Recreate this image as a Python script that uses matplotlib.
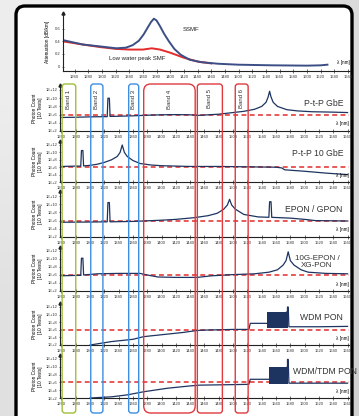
import numpy as np
import matplotlib
matplotlib.use("Agg")
import matplotlib.pyplot as plt
from matplotlib.patches import FancyBboxPatch
from matplotlib.transforms import blended_transform_factory
from matplotlib.ticker import FixedLocator, FuncFormatter

plt.rcParams['font.family'] = ['Liberation Sans', 'DejaVu Sans']

# ---------------- data ----------------
# attenuation panel (dB/km)
ssmf_nm = [1243, 1272, 1297, 1321, 1335, 1345, 1354, 1361, 1367, 1372, 1376, 1380, 1385,
           1391, 1398, 1406, 1415, 1428, 1445, 1470, 1500, 1550, 1600, 1620, 1630]
ssmf_att = [0.42, 0.35, 0.32, 0.29, 0.30, 0.34, 0.41, 0.51, 0.62, 0.71, 0.76, 0.73, 0.64,
            0.52, 0.40, 0.28, 0.19, 0.11, 0.07, 0.045, 0.03, 0.02, 0.015, 0.02, 0.03]
lwp_nm = [1243, 1272, 1297, 1321, 1341, 1360, 1373, 1385, 1400, 1420, 1440, 1460]
lwp_att = [0.40, 0.35, 0.31, 0.28, 0.27, 0.27, 0.29, 0.27, 0.22, 0.14, 0.08, 0.05]

att_ticks = [0, 0.2, 0.4, 0.6]
wl_ticks = list(range(1260, 1661, 20))
count_ticks = [1e2, 1e4, 1e6, 1e8, 1e10, 1e12]
threshold = 1e6

# photon count panels: wavelength (nm) and log10(photon count)
ptp_gbe_nm = [1260, 1280, 1300, 1320, 1324, 1325, 1327, 1328, 1340, 1360, 1380, 1400, 1420,
              1440, 1450, 1460, 1480, 1500, 1515, 1530, 1540, 1546, 1549, 1551, 1553, 1556,
              1562, 1575, 1590, 1610, 1640, 1660]
ptp_gbe_log = [5.3, 5.35, 5.45, 5.5, 5.5, 10.0, 10.0, 5.55, 5.6, 5.7, 5.85, 5.95, 6.0,
               5.95, 5.8, 5.9, 6.1, 6.5, 6.8, 7.3, 8.0, 9.0, 10.3, 11.7, 10.3, 9.0,
               8.0, 7.2, 6.9, 6.7, 6.6, 6.5]

ptp_10g_nm = [1260, 1280, 1287, 1288, 1290, 1291, 1300, 1310, 1320, 1330, 1338, 1342, 1345,
              1348, 1352, 1360, 1370, 1385, 1400, 1440, 1480, 1520, 1560, 1568, 1572, 1600,
              1630, 1660]
ptp_10g_log = [6.2, 6.3, 6.3, 10.5, 10.5, 6.35, 6.5, 6.8, 7.3, 8.0, 8.9, 10.0, 12.0,
               10.0, 8.9, 7.8, 7.0, 6.6, 6.4, 6.2, 6.2, 6.1, 6.0, 5.8, 5.3, 4.9,
               4.4, 4.0]

epon_nm = [1260, 1300, 1324, 1325, 1327, 1328, 1360, 1400, 1420, 1445, 1465, 1478, 1487,
           1492, 1495, 1498, 1503, 1515, 1535, 1550, 1551, 1553, 1554, 1580, 1600, 1615, 1660]
epon_log = [5.6, 5.65, 5.7, 10.4, 10.4, 5.7, 5.8, 6.1, 6.3, 6.7, 7.2, 7.8, 8.8,
            9.8, 11.2, 9.8, 8.8, 7.5, 6.9, 6.8, 10.6, 10.6, 6.8, 6.6, 6.3, 6.0, 5.9]

xgpon_nm = [1260, 1280, 1287, 1288, 1290, 1291, 1310, 1340, 1370, 1380, 1395, 1420, 1450,
            1470, 1500, 1530, 1550, 1562, 1570, 1574, 1577, 1580, 1585, 1595, 1605, 1630, 1660]
xgpon_log = [5.8, 5.9, 5.9, 10.2, 10.2, 6.0, 6.3, 6.4, 6.4, 6.0, 5.5, 5.4, 5.4,
             5.8, 6.1, 6.3, 6.7, 7.3, 8.5, 9.6, 11.8, 9.6, 8.5, 7.3, 6.7, 6.4, 6.3]

wdm_nm = [1300, 1310, 1330, 1345, 1360, 1375, 1390, 1410, 1430, 1445, 1455, 1480, 1500,
          1522, 1524, 1548, 1576, 1576, 1577, 1578, 1620, 1660]
wdm_log = [2.0, 2.3, 2.9, 3.2, 3.5, 4.2, 4.5, 4.9, 5.3, 5.7, 5.9, 6.0, 6.1,
           6.1, 7.7, 7.7, 10.8, 12.0, 12.0, 6.8, 6.8, 6.9]
wdm_block_nm = [1548, 1577]
wdm_block_lo = [6.5, 6.5]
wdm_block_hi = [10.8, 10.8]

tdm_nm = [1300, 1330, 1352, 1375, 1408, 1440, 1454, 1490, 1522, 1524, 1550, 1576, 1576,
          1577, 1578, 1620, 1660]
tdm_log = [2.0, 2.3, 2.8, 3.6, 4.5, 5.1, 5.3, 5.4, 5.5, 6.8, 6.8, 10.0, 11.9,
           11.9, 5.8, 5.8, 5.8]
tdm_block_nm = [1550, 1577]
tdm_block_lo = [5.5, 5.5]
tdm_block_hi = [10.0, 10.0]

panels = [
    ("P-t-P GbE", ptp_gbe_nm, ptp_gbe_log, None),
    ("P-t-P 10 GbE", ptp_10g_nm, ptp_10g_log, None),
    ("EPON / GPON", epon_nm, epon_log, None),
    ("10G-EPON /\nXG-PON", xgpon_nm, xgpon_log, None),
    ("WDM PON", wdm_nm, wdm_log, (wdm_block_nm, wdm_block_lo, wdm_block_hi)),
    ("WDM/TDM PON", tdm_nm, tdm_log, (tdm_block_nm, tdm_block_lo, tdm_block_hi)),
]

band_names = ["Band 1", "Band 2", "Band 3", "Band 4", "Band 5", "Band 6"]
band_start = [1261, 1301, 1354, 1375, 1450, 1503]
band_end = [1280, 1318, 1368, 1447, 1485, 1521]

# ---------------- styling ----------------
W, H = 359, 416
NAVY = '#1d3461'
RED = '#e32b2b'
BAND_COLORS = ['#9fbf3b', '#3d8ee0', '#3d8ee0', '#e0393e', '#e0393e', '#e0393e']

fig = plt.figure(figsize=(W / 100, H / 100), dpi=100)

# background + white rounded frame
bg = fig.add_axes([0, 0, 1, 1], zorder=-5)
bg.set_xlim(0, W)
bg.set_ylim(H, 0)
bg.axis('off')
grad = np.array([[[0.93] * 3, [0.86] * 3], [[0.88] * 3, [0.82] * 3]])
bg.imshow(grad, extent=[0, W, H, 0], aspect='auto', interpolation='bilinear')
bg.add_patch(FancyBboxPatch((16, 6), 336, 430, boxstyle='round,pad=0,rounding_size=9',
                            fc='white', ec='black', lw=2.4))


def add_ax(l, t, r, b):
    return fig.add_axes([l / W, 1 - b / H, (r - l) / W, (b - t) / H])


def style(ax):
    for s in ['top', 'right']:
        ax.spines[s].set_visible(False)
    for s in ['left', 'bottom']:
        ax.spines[s].set_linewidth(0.8)
        ax.spines[s].set_color('#222222')
    ax.patch.set_alpha(0)
    ax.tick_params(axis='both', labelsize=3, length=2, width=0.5, pad=1,
                   colors='#333333', direction='inout')
    ax.tick_params(axis='x', length=3, pad=1.2)
    ax.plot([0], [1], marker='^', ms=2.2, color='#222222', transform=ax.transAxes,
            clip_on=False)


# ---------------- attenuation panel ----------------
ax0 = add_ax(63, 13, 350, 71)
style(ax0)
ax0.set_xlim(1243, 1663)
ax0.set_ylim(-0.07, 0.85)
ax0.plot(lwp_nm, lwp_att, color=RED, lw=1.4)
ax0.plot(ssmf_nm, ssmf_att, color='#3b4f86', lw=1.4)
ax0.xaxis.set_major_locator(FixedLocator(wl_ticks))
ax0.yaxis.set_major_locator(FixedLocator(att_ticks))
ax0.yaxis.set_major_formatter(FuncFormatter(lambda v, p: f"{v:g}"))
ax0.set_ylabel("Attenuation [dB/km]", fontsize=3.4, labelpad=3)
ax0.text(1418, 0.56, "SSMF", fontsize=4.3, color='#222222')
ax0.text(1311, 0.13, "Low water peak SMF", fontsize=4.3, color='#222222', va='center')
ax0.text(1.0, 0.1, "λ [nm]", fontsize=3.3, ha='right', va='bottom', transform=ax0.transAxes)

# ---------------- photon count panels ----------------
rows = [(90, 131), (145, 182), (196, 237), (251, 291), (307, 345), (359, 398)]
label_pos = [(343, 103, 'right'), (343, 153, 'right'), (342, 210, 'right'),
             (317, 262, 'center'), (343, 318, 'right'), (293, 372, 'left')]
XL, XR = 60, 349
XMIN, XMAX = 1258, 1662
axes = []
for (name, nm, lg, block), (y12, y2), (lx, ly, lha) in zip(panels, rows, label_pos):
    dec = (y2 - y12) / 10.0
    ax = add_ax(XL, y12 - 1.1 * dec, XR, y2)
    style(ax)
    ax.set_yscale('log')
    ax.set_xlim(XMIN, XMAX)
    ax.set_ylim(1e2, 10 ** 13.1)
    ax.axhline(threshold, color=RED, lw=1.1, ls=(0, (3.2, 2.2)), zorder=2)
    if block is not None:
        bx, blo, bhi = block
        ax.fill_between(bx, 10 ** np.array(blo), 10 ** np.array(bhi), color=NAVY, lw=0,
                        zorder=3)
    ax.plot(nm, 10 ** np.array(lg), color=NAVY, lw=0.9, zorder=3)
    ax.xaxis.set_major_locator(FixedLocator(wl_ticks))
    ax.yaxis.set_major_locator(FixedLocator(count_ticks))
    ax.yaxis.set_minor_locator(FixedLocator([]))
    ax.yaxis.set_major_formatter(FuncFormatter(lambda v, p: f"1E+{int(round(np.log10(v)))}"))
    ax.set_ylabel("Photon Count\n[10 Tests]", fontsize=3.4, labelpad=2, linespacing=1.1)
    ax.text(1.0, 0.1, "λ [nm]", fontsize=3.3, ha='right', va='bottom', transform=ax.transAxes)
    fs = 5.8 if '\n' in name else 6.2
    fig.text(lx / W, 1 - ly / H, name, fontsize=fs, ha=lha, va='center', color='#333333',
             linespacing=1.0, multialignment='center')
    axes.append(ax)

# ---------------- band boxes ----------------
ref = axes[0]
tr = blended_transform_factory(ref.transData, fig.transFigure)
aspect = ((XR - XL) / (XMAX - XMIN)) / H
yb, yt = 1 - 413 / H, 1 - 84 / H
for i, (bn, b0, b1, c) in enumerate(zip(band_names, band_start, band_end, BAND_COLORS)):
    rs = 10 if i == 3 else 4
    p = FancyBboxPatch((b0, yb), b1 - b0, yt - yb,
                       boxstyle=f'round,pad=0,rounding_size={rs}',
                       mutation_aspect=aspect, transform=tr, fill=False, ec=c, lw=1.0,
                       zorder=6)
    fig.add_artist(p)
    fig.text((b0 + b1) / 2, 1 - 99 / H, bn, transform=tr, rotation=90, fontsize=4.3,
             ha='center', va='center', color='#333333')

fig.savefig("out.png", dpi=100)
